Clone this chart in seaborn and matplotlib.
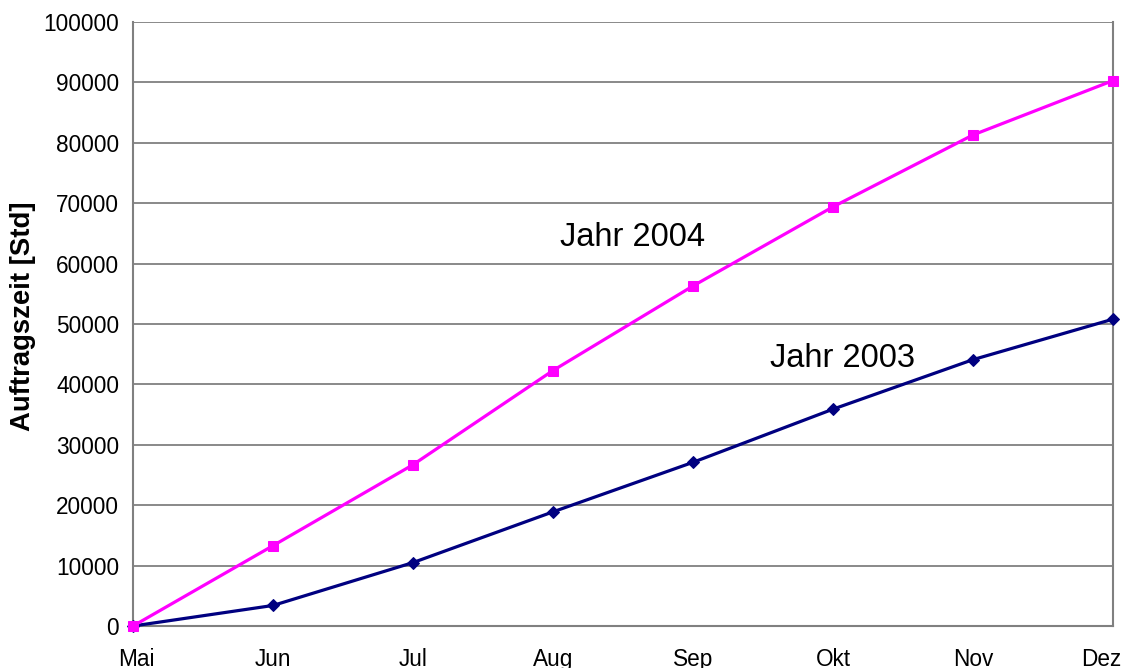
import matplotlib
matplotlib.use("Agg")
import matplotlib.pyplot as plt
import matplotlib.transforms as mtransforms
import seaborn as sns
import pandas as pd

months = ["Mai", "Jun", "Jul", "Aug", "Sep", "Okt", "Nov", "Dez"]
jahr_2004 = [0, 13300, 26700, 42300, 56300, 69400, 81300, 90300]
jahr_2003 = [0, 3400, 10500, 18900, 27100, 35900, 44100, 50800]
yticks = list(range(0, 100001, 10000))

sns.set_theme(style="white")
plt.rcParams["font.family"] = ["Liberation Sans", "DejaVu Sans"]
plt.rcParams["text.color"] = "black"

df = pd.DataFrame({
    "idx": list(range(len(months))) * 2,
    "Monat": months * 2,
    "Wert": jahr_2004 + jahr_2003,
    "Jahr": ["2004"] * len(months) + ["2003"] * len(months),
})

fig = plt.figure(figsize=(11.23, 6.68), dpi=100)
ax = fig.add_axes([133 / 1123, 42 / 668, (1113 - 133) / 1123, (626 - 22) / 668])

sns.lineplot(data=df[df.Jahr == "2003"], x="idx", y="Wert", color="#000080",
             marker="D", markersize=6.5, markeredgecolor="#000080",
             linewidth=2.3, ax=ax, clip_on=False, zorder=5, legend=False)
sns.lineplot(data=df[df.Jahr == "2004"], x="idx", y="Wert", color="#FF00FF",
             marker="s", markersize=7.5, markeredgecolor="#FF00FF",
             linewidth=2.3, ax=ax, clip_on=False, zorder=6, legend=False)

ax.set_xlim(0, len(months) - 1)
ax.set_ylim(0, 100000)
ax.set_xticks(range(len(months)))
ax.set_xticklabels(months)
ax.set_yticks(yticks)
ax.set_yticklabels([str(v) for v in yticks])

ax.yaxis.grid(True, color="#808080", linewidth=1.3)
ax.set_axisbelow(True)
for s in ["left", "right", "bottom"]:
    ax.spines[s].set_color("#808080")
    ax.spines[s].set_linewidth(1.5)
ax.spines["top"].set_visible(False)

ax.tick_params(axis="both", direction="out", length=5, width=1.3, color="#808080",
               labelsize=16.3, labelcolor="black")
ax.tick_params(axis="y", pad=5)
ax.tick_params(axis="x", pad=11)

# shift first/last x label to stay inside the figure like the reference
labels = ax.get_xticklabels()
labels[0].set_transform(labels[0].get_transform() +
                        mtransforms.ScaledTranslation(3 / 100, 0, fig.dpi_scale_trans))
labels[-1].set_transform(labels[-1].get_transform() +
                         mtransforms.ScaledTranslation(-12 / 100, 0, fig.dpi_scale_trans))

ax.set_xlabel("")
ax.set_ylabel("Auftragszeit [Std]", fontsize=19.8, fontweight="bold", color="black")
ax.yaxis.set_label_coords(-0.099, 0.513)

ax.text(3.57, 64400, "Jahr 2004", fontsize=23.5, ha="center", va="center", color="black")
ax.text(5.07, 44300, "Jahr 2003", fontsize=23.5, ha="center", va="center", color="black")

fig.savefig("out.png", dpi=100)
